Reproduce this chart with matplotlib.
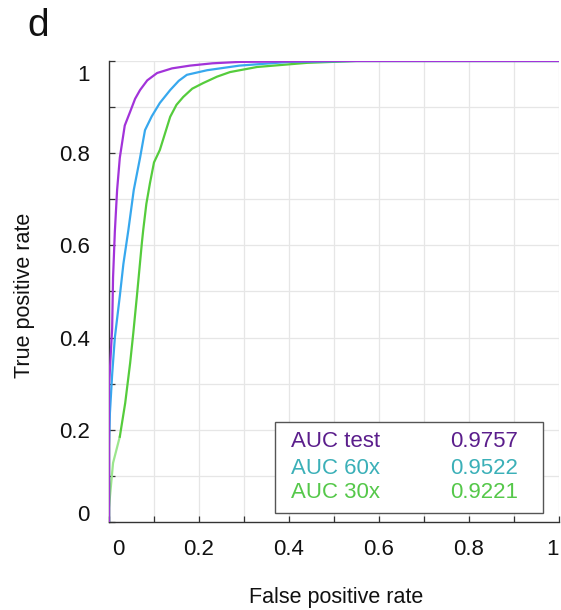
import numpy as np
import matplotlib.pyplot as plt
from matplotlib.transforms import ScaledTranslation
from matplotlib.patches import Rectangle

plt.rcParams['font.family'] = ['Liberation Sans', 'DejaVu Sans']

# ROC curves (false positive rate, true positive rate)
fpr_test = [0, 0, 0.002, 0.007, 0.009, 0.013, 0.018, 0.024, 0.035, 0.047, 0.058, 0.069, 0.085, 0.107, 0.14, 0.18, 0.23, 0.29, 0.5, 1.0]
tpr_test = [0, 0.30, 0.33, 0.42, 0.53, 0.63, 0.72, 0.79, 0.86, 0.89, 0.918, 0.937, 0.958, 0.974, 0.984, 0.99, 0.995, 0.998, 1.0, 1.0]

fpr_60x = [0, 0, 0.002, 0.007, 0.013, 0.024, 0.032, 0.043, 0.055, 0.069, 0.08, 0.095, 0.113, 0.136, 0.155, 0.173, 0.218, 0.29, 0.40, 0.55, 1.0]
tpr_60x = [0, 0.165, 0.236, 0.32, 0.40, 0.49, 0.56, 0.633, 0.72, 0.79, 0.85, 0.88, 0.909, 0.937, 0.957, 0.97, 0.98, 0.99, 0.998, 1.0, 1.0]

fpr_30x = [0, 0, 0.002, 0.009, 0.024, 0.036, 0.047, 0.054, 0.062, 0.073, 0.076, 0.083, 0.091, 0.1, 0.113, 0.136, 0.15, 0.165, 0.185, 0.209, 0.24, 0.269, 0.329, 0.44, 0.55, 1.0]
tpr_30x = [0, 0.03, 0.054, 0.128, 0.185, 0.258, 0.345, 0.41, 0.49, 0.605, 0.633, 0.69, 0.735, 0.78, 0.807, 0.879, 0.905, 0.922, 0.94, 0.952, 0.966, 0.976, 0.987, 0.996, 1.0, 1.0]

legend_names = ['AUC test', 'AUC 60x', 'AUC 30x']
auc_values = ['0.9757', '0.9522', '0.9221']

line_colors = ['#a233d9', '#37a8ee', '#55cc3c']
text_colors = ['#5b1e8c', '#3bb0b8', '#55c84a']

fig = plt.figure(figsize=(5.61, 6.10), dpi=100)
ax = fig.add_axes([0.1943, 0.1443, 0.8021, 0.7557])

# grid every 0.1
for v in np.arange(0.1, 1.01, 0.1):
    ax.axvline(v, color='#e6e6e6', lw=0.9, zorder=0)
    ax.axhline(v, color='#e6e6e6', lw=0.9, zorder=0)

# green curve: lighter at the bottom, like the reference
ax.plot(fpr_30x[:5], tpr_30x[:5], color='#9be68c', lw=1.6, zorder=2)
ax.plot(fpr_30x[4:], tpr_30x[4:], color=line_colors[2], lw=1.6, zorder=2)
ax.plot(fpr_60x, tpr_60x, color=line_colors[1], lw=1.6, zorder=3)
ax.plot(fpr_test, tpr_test, color=line_colors[0], lw=1.6, zorder=4)

ax.set_xlim(0, 1)
ax.set_ylim(0, 1)
for s in ['top', 'right']:
    ax.spines[s].set_visible(False)
for s in ['left', 'bottom']:
    ax.spines[s].set_color('#333333')
    ax.spines[s].set_linewidth(1.0)

ticks = np.round(np.arange(0, 1.01, 0.2), 1)
ax.set_xticks(ticks)
ax.set_yticks(ticks)
ax.set_xticklabels(['0', '0.2', '0.4', '0.6', '0.8', '1'])
ax.set_yticklabels(['0', '0.2', '0.4', '0.6', '0.8', '1'])
ax.set_xticks(np.arange(0.1, 1.0, 0.2), minor=True)
ax.set_yticks(np.arange(0.1, 1.0, 0.2), minor=True)
ax.tick_params(which='both', direction='in', length=4, width=0.9, color='#333333',
               labelsize=16, labelcolor='#111111')
ax.tick_params(axis='x', pad=12)
ax.tick_params(axis='y', pad=14)

# nudge end labels inward as in the reference
xl = ax.get_xticklabels()
yl = ax.get_yticklabels()
xl[0].set_transform(xl[0].get_transform() + ScaledTranslation(0.09, 0, fig.dpi_scale_trans))
xl[-1].set_transform(xl[-1].get_transform() + ScaledTranslation(-0.06, 0, fig.dpi_scale_trans))
yl[0].set_transform(yl[0].get_transform() + ScaledTranslation(0, 0.09, fig.dpi_scale_trans))
yl[-1].set_transform(yl[-1].get_transform() + ScaledTranslation(0, -0.12, fig.dpi_scale_trans))

fig.text(336 / 561, 1 - 598 / 610, 'False positive rate', fontsize=15.5,
         ha='center', va='center', color='#111111')
fig.text(25 / 561, 1 - 295 / 610, 'True positive rate', fontsize=15.5,
         ha='center', va='center', rotation=90, color='#111111')

# legend box with names and AUC values
ax.add_patch(Rectangle((0.369, 0.0195), 0.595, 0.1975, facecolor='white',
                       edgecolor='#555555', lw=1.0, zorder=5))
rows_y = [0.174, 0.117, 0.063]
for name, val, c, y in zip(legend_names, auc_values, text_colors, rows_y):
    ax.text(0.404, y, name, color=c, fontsize=16, va='center', ha='left', zorder=6)
    ax.text(0.909, y, val, color=c, fontsize=16, va='center', ha='right', zorder=6)

fig.text(0.068, 0.958, 'd', fontsize=28, va='center', ha='center', color='#111111')

fig.savefig('out.png', dpi=100)
